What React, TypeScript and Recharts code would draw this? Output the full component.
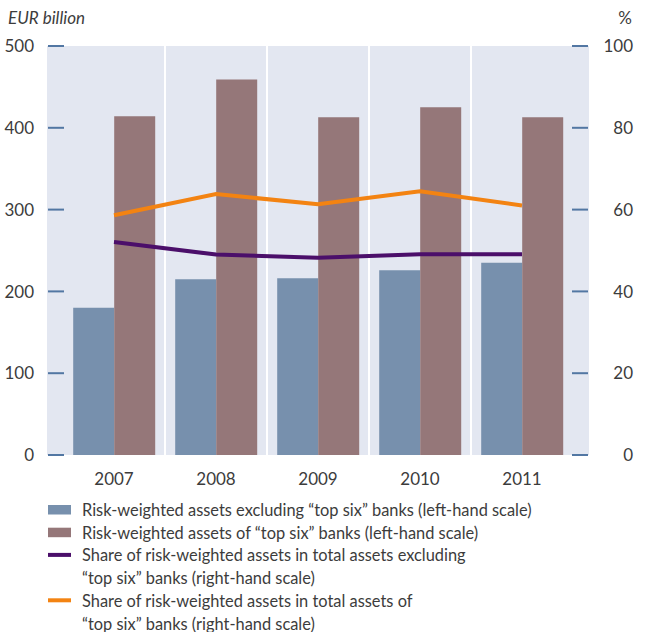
import React from 'react';
import { ComposedChart, Bar, Line, XAxis, YAxis, CartesianGrid } from 'recharts';

const years = ['2007', '2008', '2009', '2010', '2011'];
const rwaExclTop6 = [180, 215, 216, 226, 235];
const rwaTop6 = [414, 459, 413, 425, 413];
const shareExclTop6 = [52.1, 49.0, 48.2, 49.1, 49.1];
const shareTop6 = [58.6, 63.8, 61.3, 64.5, 61.0];
const leftTicks = [0, 100, 200, 300, 400, 500];
const rightTicks = [0, 20, 40, 60, 80, 100];

const legendItems = [
  { lines: ['Risk-weighted assets excluding \u201ctop six\u201d banks (left-hand scale)'], color: '#7790ad', kind: 'bar' },
  { lines: ['Risk-weighted assets of \u201ctop six\u201d banks (left-hand scale)'], color: '#957779', kind: 'bar' },
  { lines: ['Share of risk-weighted assets in total assets excluding', '\u201ctop six\u201d banks (right-hand scale)'], color: '#4b0f6a', kind: 'line' },
  { lines: ['Share of risk-weighted assets in total assets of', '\u201ctop six\u201d banks (right-hand scale)'], color: '#f38312', kind: 'line' },
];

const data = years.map((year, i) => ({
  year,
  excl: rwaExclTop6[i],
  top6: rwaTop6[i],
  shareExcl: shareExclTop6[i],
  shareTop6: shareTop6[i],
}));

const FONT = 'Lato, sans-serif';
const TEXT = '#3c3c3c';
const TICK = '#5277a3';
const FS = 17;
const LFS = 16.4;
const XPAD = 16;

const LeftTick = (props: any) => {
  const { x, y, payload } = props;
  return (
    <g>
      <line x1={x + 1} x2={x + 17} y1={y} y2={y} stroke={TICK} strokeWidth={2} />
      <text x={x - 13} y={y} dy="0.36em" textAnchor="end" fill={TEXT} fontSize={FS} fontFamily={FONT}>
        {payload.value}
      </text>
    </g>
  );
};

const RightTick = (props: any) => {
  const { x, y, payload } = props;
  return (
    <g>
      <line x1={x - 17} x2={x - 1} y1={y} y2={y} stroke={TICK} strokeWidth={2} />
      <text x={x + 44} y={y} dy="0.36em" textAnchor="end" fill={TEXT} fontSize={FS} fontFamily={FONT}>
        {payload.value}
      </text>
    </g>
  );
};

const BottomTick = (props: any) => {
  const { x, y, payload } = props;
  return (
    <text x={x} y={y + 30} textAnchor="middle" fill={TEXT} fontSize={FS} fontFamily={FONT}>
      {payload.value}
    </text>
  );
};

// category boundaries (between bands) for the white separators
const separatorGenerator = ({ offset }: any) => {
  const start = offset.left + XPAD;
  const band = (offset.width - 2 * XPAD) / years.length;
  return years.slice(1).map((_, i) => start + band * (i + 1));
};

export default function App() {
  let row = 0;
  const rowH = 22.7;
  const base0 = 516;
  return (
    <div style={{ position: 'absolute', left: 0, top: 0, width: 646, height: 632, background: '#fff', fontFamily: FONT }}>
      <svg width={646} height={40} style={{ position: 'absolute', left: 0, top: 0 }}>
        <text x={8} y={24} fontStyle="italic" fill={TEXT} fontSize={FS} fontFamily={FONT}>EUR billion</text>
        <text x={632} y={24} textAnchor="end" fill={TEXT} fontSize={FS} fontFamily={FONT}>%</text>
      </svg>
      <div style={{ position: 'absolute', left: 0, top: 0 }}>
        <ComposedChart
          width={646}
          height={500}
          data={data}
          margin={{ top: 46, right: 0, bottom: 0, left: 0 }}
          barCategoryGap="10%"
          barGap={0}
        >
          <CartesianGrid
            horizontal={false}
            vertical
            fill="#e3e7f1"
            stroke="#ffffff"
            strokeWidth={2}
            verticalCoordinatesGenerator={separatorGenerator}
          />
          <XAxis
            dataKey="year"
            height={45}
            padding={{ left: XPAD, right: XPAD }}
            axisLine={false}
            tickLine={false}
            tickSize={0}
            tickMargin={0}
            tick={<BottomTick />}
          />
          <YAxis
            yAxisId="left"
            orientation="left"
            width={47}
            domain={[0, 500]}
            ticks={leftTicks}
            axisLine={false}
            tickLine={false}
            tickSize={0}
            tickMargin={0}
            tick={<LeftTick />}
            interval={0}
          />
          <YAxis
            yAxisId="right"
            orientation="right"
            width={57}
            domain={[0, 100]}
            ticks={rightTicks}
            axisLine={false}
            tickLine={false}
            tickSize={0}
            tickMargin={0}
            tick={<RightTick />}
            interval={0}
          />
          <Bar yAxisId="left" dataKey="excl" fill="#7790ad" isAnimationActive={false} />
          <Bar yAxisId="left" dataKey="top6" fill="#957779" isAnimationActive={false} />
          <Line yAxisId="right" type="linear" dataKey="shareExcl" stroke="#4b0f6a" strokeWidth={4} dot={false} isAnimationActive={false} />
          <Line yAxisId="right" type="linear" dataKey="shareTop6" stroke="#f38312" strokeWidth={4} dot={false} isAnimationActive={false} />
        </ComposedChart>
      </div>
      <svg width={646} height={132} style={{ position: 'absolute', left: 0, top: 500 }}>
        {legendItems.map((item, i) => {
          const startRow = row;
          row += item.lines.length;
          const baseline = base0 + startRow * rowH - 500;
          return (
            <g key={i}>
              {item.kind === 'bar' ? (
                <rect x={48} y={baseline - 11} width={23} height={9.5} fill={item.color} />
              ) : (
                <rect x={48} y={baseline - 8.5} width={23} height={4} fill={item.color} />
              )}
              {item.lines.map((ln, j) => (
                <text key={j} x={82} y={baseline + j * rowH} fill={TEXT} fontSize={LFS} fontFamily={FONT}>
                  {ln}
                </text>
              ))}
            </g>
          );
        })}
      </svg>
    </div>
  );
}
